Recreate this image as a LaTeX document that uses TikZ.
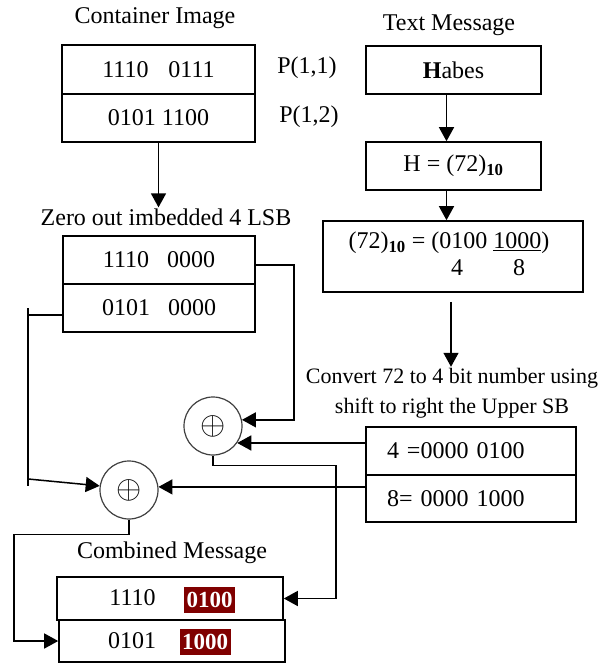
\documentclass[tikz,border=0pt]{standalone}
\usepackage{fontspec}
\usepackage{graphicx}
\setmainfont{Liberation Serif}
\usetikzlibrary{arrows.meta,calc}
\definecolor{hlred}{RGB}{128,0,0}
\begin{document}
\begin{tikzpicture}[x=1pt,y=-1pt,
  every node/.style={font=\fontsize{24}{30}\selectfont},
  cell/.style={draw, line width=1.6pt, inner sep=0pt, rectangle},
  lbl/.style={inner sep=1pt},
  conn/.style={line width=1.5pt},
  arr/.style={line width=1.5pt, -{Triangle[length=14pt,width=15pt]}},
  xor/.style={circle, draw=black!75, line width=1.2pt, minimum size=58pt, inner sep=0pt},
  hl/.style={fill=hlred, text=white, font=\fontsize{23}{30}\selectfont\bfseries, minimum width=51pt, minimum height=26pt, inner sep=0pt}
]
\useasboundingbox (0,0) rectangle (603,666);

% Container image
\node[lbl] (tci) at (155,18) {Container Image};
\node[cell, minimum width=193pt, minimum height=49pt] (ci1) at (158.5,69.5) {1110\hspace{20pt}0111};
\node[cell, minimum width=193pt, minimum height=48pt] (ci2) at (158.5,118) {0101 1100};
\node[lbl] (p1) at (307,68) {P(1,1)};
\node[lbl] (p2) at (309,117) {P(1,2)};

% Zero out
\node[lbl] (tz) at (166,217) {Zero out imbedded 4 LSB};
\node[cell, minimum width=192pt, minimum height=48pt] (z1) at (159,260) {1110\hspace{18pt}0000};
\node[cell, minimum width=192pt, minimum height=48pt] (z2) at (159,308) {0101\hspace{18pt}0000};

% Text message
\node[lbl] (ttm) at (449,25) {Text Message};
\node[cell, minimum width=175pt, minimum height=48pt] (h1) at (453.5,70) {\textbf{H}abes};
\node[cell, minimum width=175pt, minimum height=48pt] (h2) at (453.5,166) {H = (72)\textsubscript{\textbf{10}}};
\node[cell, minimum width=260pt, minimum height=71pt] (h3) at (453,256.5) {};
\node[lbl] (h3a) at (449,243) {(72)\textsubscript{\textbf{10}} = (0100 \underline{1000})};
\node[lbl] (h3b) at (457,268) {4};
\node[lbl] (h3c) at (519,268) {8};

% Convert
\node[lbl, align=center, font=\fontsize{22}{30}\selectfont] (tconv) at (452,393) {Convert 72 to 4 bit number using\\shift to right the Upper SB};
\node[cell, minimum width=210pt, minimum height=48pt, text width=168pt, align=left] (s1) at (471,451) {4 =0000 0100};
\node[cell, minimum width=210pt, minimum height=47pt, text width=168pt, align=left] (s2) at (471,498.5) {8= 0000 1000};

% XOR circles
\node[xor] (c1) at (213,426) {\scalebox{1.3}{$\oplus$}};
\node[xor] (c2) at (129,490) {\scalebox{1.3}{$\oplus$}};

% Combined message
\node[lbl] (tcm) at (172,553) {Combined Message};
\node[cell, minimum width=226pt, minimum height=43pt] (m1) at (170,598.5) {};
\node[cell, minimum width=226pt, minimum height=42pt] (m2) at (172,641) {};
\node[lbl] (m1a) at (132.5,598) {1110};
\node[hl] (m1b) at (209.5,600) {0100};
\node[lbl] (m2a) at (132,641) {0101};
\node[hl] (m2b) at (205,642) {1000};

% Connectors
\draw[arr] (ci2.south) -- (ci2.south |- tz.north);
\draw[arr] ([xshift=-7pt]h1.south) -- ([xshift=-7pt]h2.north);
\draw[arr] ([xshift=-7pt]h2.south) -- ([xshift=-7pt]h2.south |- h3.north);
\draw[arr] ([xshift=-2pt,yshift=-9pt]h3.south) -- ([xshift=-2pt]h3.south |- tconv.north);
\draw[arr] ([yshift=-5pt]z1.east) -- ++(38,0) |- (c1.12);
\draw[arr] (s1.west |- c1.-35) -- (c1.-35);
\draw[arr] (s2.west |- c2.6) -- (c2.6);
\draw[arr] (c1.south) -- ++(0,10) -| ([xshift=52pt]m1.east) -- (m1.east);
\draw[conn] ([yshift=-7pt]z2.west) -- ++(-34,0) coordinate (zl);
\draw[conn] ([yshift=7pt]zl) -- ++(0,178) coordinate (zb);
\draw[arr] ([yshift=7pt]zb) -- (c2.172);
\draw[arr] (c2.south) -- ++(0,15) -| ([xshift=-44pt]m2.west) -- (m2.west);
\end{tikzpicture}
\end{document}
